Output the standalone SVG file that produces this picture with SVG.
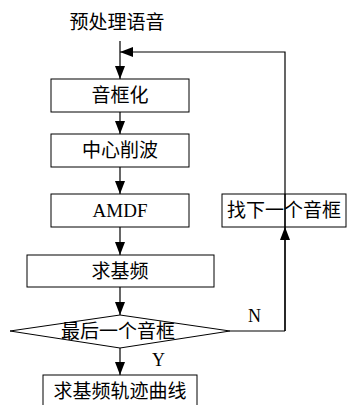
<svg xmlns="http://www.w3.org/2000/svg" width="347" height="405" viewBox="0 0 347 405">
<defs>
<style>
.box{fill:#fff;stroke:#000;stroke-width:1}
.ln{fill:none;stroke:#000;stroke-width:1.2}
.t{font-family:"Liberation Serif","Noto Sans CJK SC",serif;font-size:19px;fill:#000;text-anchor:middle}
.l{font-family:"Liberation Serif","Noto Sans CJK SC",serif;font-size:18px;fill:#000}
</style>
<marker id="ah" viewBox="0 0 13 10" refX="13" refY="5" markerWidth="13" markerHeight="10" markerUnits="userSpaceOnUse" orient="auto">
<path d="M0,0 L13,5 L0,10 Z" fill="#000"/>
</marker>
</defs>
<rect width="347" height="405" fill="#fff"/>
<g id="connectors">
<path class="ln" d="M120,41 V79" marker-end="url(#ah)"/>
<path class="ln" d="M285,331 V52 H120" marker-end="url(#ah)"/>
<path class="ln" d="M230,331 H285"/>
<path class="ln" d="M285,331 V227" marker-end="url(#ah)"/>
<path class="ln" d="M120,112 V134" marker-end="url(#ah)"/>
<path class="ln" d="M120,167 V194" marker-end="url(#ah)"/>
<path class="ln" d="M120,227 V255" marker-end="url(#ah)"/>
<path class="ln" d="M120,287 V315" marker-end="url(#ah)"/>
<path class="ln" d="M120,348 V375" marker-end="url(#ah)"/>
<text class="l" x="248" y="322">N</text>
<text class="l" x="152" y="366">Y</text>
</g>
<g id="start"><text class="t" x="117" y="29">预处理语音</text></g>
<g id="n1"><rect class="box" x="51" y="79" width="138" height="33"/><text class="t" x="120" y="102">音框化</text></g>
<g id="n2"><rect class="box" x="51" y="134" width="138" height="33"/><text class="t" x="120" y="157">中心削波</text></g>
<g id="n3"><rect class="box" x="51" y="194" width="138" height="33"/><text class="t" x="120" y="217">AMDF</text></g>
<g id="next"><rect class="box" x="222" y="194" width="124" height="33" style="fill:none"/><text class="t" x="284" y="217">找下一个音框</text><path class="ln" d="M285,194 V227"/></g>
<g id="n4"><rect class="box" x="27" y="255" width="187" height="32"/><text class="t" x="120" y="278">求基频</text></g>
<g id="dec"><polygon class="box" points="120,315 230,331 120,348 10,331"/><text class="t" x="118" y="338">最后一个音框</text></g>
<g id="end"><rect class="box" x="43" y="375" width="154" height="40"/><text class="t" x="120" y="398">求基频轨迹曲线</text></g>
</svg>
